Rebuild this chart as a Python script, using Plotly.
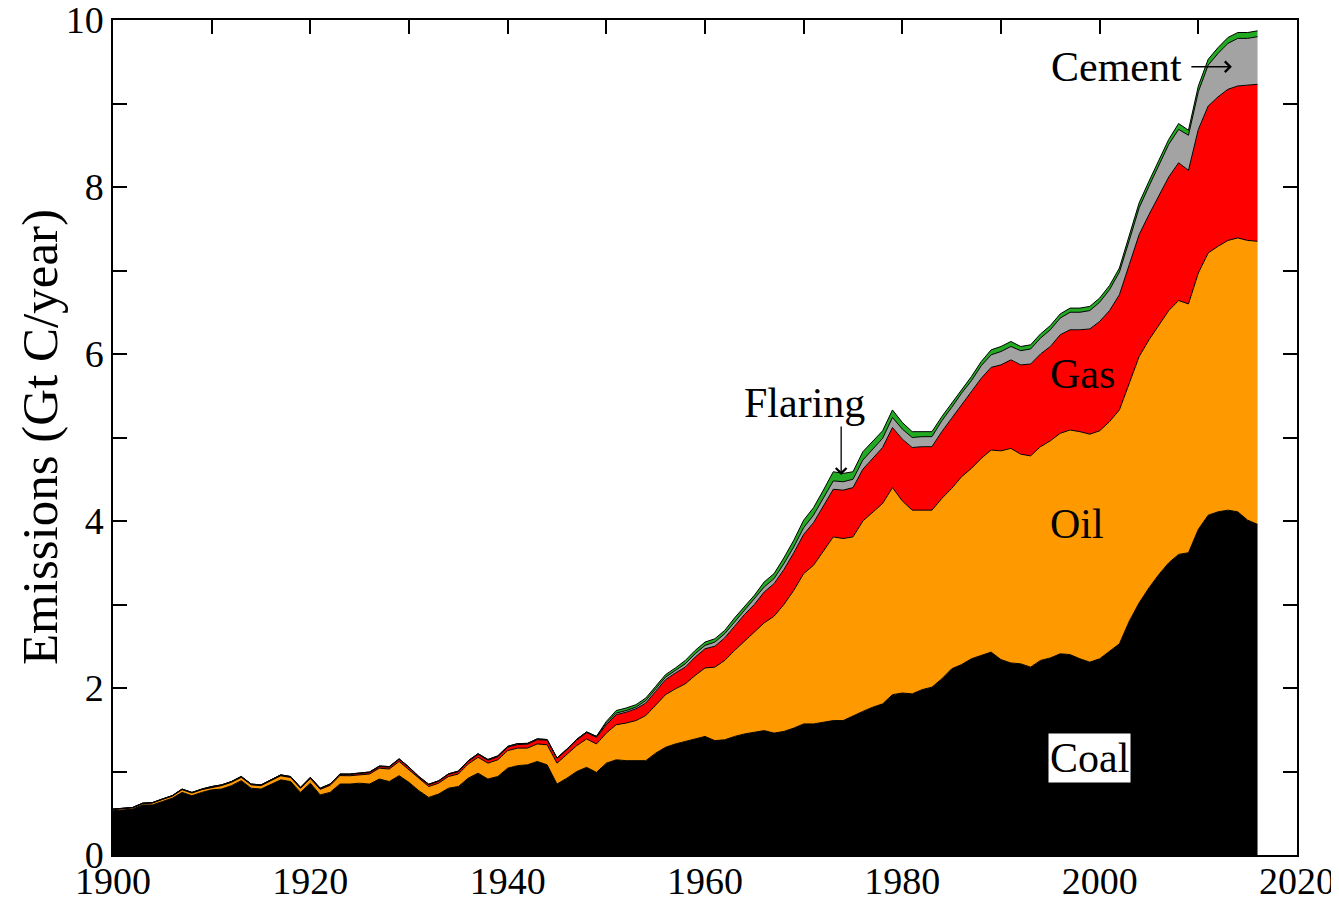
import plotly.graph_objects as go

years = list(range(1900, 2017))

# emissions by source, Gt C per year
coal = [0.53, 0.54, 0.55, 0.60, 0.60, 0.64, 0.68, 0.75, 0.71, 0.75,
        0.78, 0.79, 0.83, 0.89, 0.80, 0.79, 0.85, 0.90, 0.88, 0.75,
        0.86, 0.72, 0.75, 0.85, 0.85, 0.86, 0.85, 0.91, 0.88, 0.95,
        0.87, 0.77, 0.69, 0.73, 0.80, 0.82, 0.92, 0.98, 0.91, 0.94,
        1.04, 1.07, 1.08, 1.12, 1.08, 0.85, 0.92, 1.00, 1.05, 0.99,
        1.10, 1.14, 1.13, 1.13, 1.13, 1.22, 1.29, 1.33, 1.36, 1.39,
        1.42, 1.37, 1.38, 1.42, 1.45, 1.47, 1.49, 1.46, 1.48, 1.52,
        1.57, 1.57, 1.59, 1.61, 1.61, 1.67, 1.72, 1.77, 1.81, 1.92,
        1.94, 1.93, 1.98, 2.01, 2.11, 2.23, 2.28, 2.35, 2.39, 2.43,
        2.34, 2.30, 2.29, 2.25, 2.33, 2.36, 2.41, 2.40, 2.35, 2.31,
        2.35, 2.44, 2.53, 2.80, 3.02, 3.20, 3.36, 3.50, 3.60, 3.62,
        3.90, 4.07, 4.11, 4.13, 4.11, 4.01, 3.96]

oil = [0.015, 0.015, 0.015, 0.015, 0.022, 0.025, 0.025, 0.032, 0.032, 0.032,
       0.031, 0.041, 0.040, 0.040, 0.040, 0.040, 0.040, 0.048, 0.048, 0.048,
       0.056, 0.066, 0.084, 0.101, 0.099, 0.098, 0.12, 0.13, 0.15, 0.17,
       0.15, 0.14, 0.13, 0.13, 0.14, 0.15, 0.17, 0.19, 0.19, 0.20,
       0.21, 0.21, 0.20, 0.21, 0.24, 0.25, 0.28, 0.31, 0.34, 0.34,
       0.36, 0.42, 0.45, 0.48, 0.54, 0.58, 0.63, 0.66, 0.69, 0.76,
       0.82, 0.88, 0.95, 1.03, 1.11, 1.19, 1.29, 1.40, 1.52, 1.65,
       1.80, 1.90, 2.05, 2.20, 2.18, 2.14, 2.28, 2.34, 2.40, 2.48,
       2.30, 2.20, 2.15, 2.12, 2.16, 2.16, 2.25, 2.28, 2.36, 2.42,
       2.50, 2.57, 2.51, 2.53, 2.56, 2.60, 2.64, 2.69, 2.72, 2.73,
       2.73, 2.75, 2.80, 2.85, 2.95, 2.97, 2.99, 3.02, 3.04, 2.98,
       3.07, 3.14, 3.18, 3.23, 3.28, 3.35, 3.39]

gas = [0.003, 0.003, 0.003, 0.004, 0.004, 0.004, 0.004, 0.005, 0.005, 0.005,
       0.006, 0.006, 0.007, 0.007, 0.007, 0.007, 0.008, 0.009, 0.009, 0.009,
       0.010, 0.010, 0.011, 0.014, 0.015, 0.016, 0.017, 0.019, 0.021, 0.024,
       0.025, 0.023, 0.022, 0.023, 0.025, 0.027, 0.030, 0.034, 0.034, 0.036,
       0.040, 0.043, 0.046, 0.051, 0.055, 0.056, 0.060, 0.067, 0.074, 0.080,
       0.10, 0.12, 0.13, 0.14, 0.15, 0.16, 0.18, 0.19, 0.20, 0.22,
       0.23, 0.25, 0.27, 0.29, 0.32, 0.34, 0.37, 0.39, 0.42, 0.45,
       0.47, 0.51, 0.54, 0.57, 0.58, 0.59, 0.62, 0.64, 0.67, 0.72,
       0.74, 0.75, 0.76, 0.76, 0.80, 0.84, 0.86, 0.91, 0.96, 0.99,
       1.03, 1.06, 1.07, 1.10, 1.11, 1.13, 1.18, 1.20, 1.22, 1.26,
       1.31, 1.33, 1.38, 1.42, 1.46, 1.50, 1.55, 1.60, 1.65, 1.60,
       1.72, 1.76, 1.79, 1.81, 1.82, 1.86, 1.88]

cement = [0.002, 0.002, 0.002, 0.002, 0.002, 0.002, 0.002, 0.003, 0.003, 0.003,
          0.003, 0.003, 0.003, 0.004, 0.003, 0.003, 0.003, 0.003, 0.003, 0.003,
          0.004, 0.004, 0.005, 0.005, 0.006, 0.006, 0.007, 0.007, 0.008, 0.008,
          0.008, 0.007, 0.006, 0.006, 0.007, 0.008, 0.009, 0.010, 0.010, 0.011,
          0.011, 0.011, 0.011, 0.010, 0.008, 0.006, 0.008, 0.009, 0.010, 0.011,
          0.02, 0.02, 0.02, 0.02, 0.03, 0.03, 0.03, 0.03, 0.04, 0.04,
          0.04, 0.05, 0.05, 0.05, 0.05, 0.06, 0.06, 0.06, 0.07, 0.07,
          0.08, 0.09, 0.09, 0.10, 0.10, 0.10, 0.11, 0.11, 0.11, 0.12,
          0.12, 0.12, 0.12, 0.12, 0.13, 0.13, 0.14, 0.14, 0.15, 0.15,
          0.16, 0.16, 0.17, 0.18, 0.19, 0.20, 0.20, 0.21, 0.21, 0.22,
          0.23, 0.25, 0.27, 0.29, 0.32, 0.34, 0.37, 0.39, 0.40, 0.42,
          0.45, 0.49, 0.52, 0.55, 0.57, 0.56, 0.57]

flaring = [0.0] * 50 + [
    0.02, 0.03, 0.03, 0.03, 0.03, 0.03, 0.03, 0.03, 0.04, 0.04,
    0.04, 0.04, 0.04, 0.05, 0.05, 0.05, 0.06, 0.06, 0.07, 0.08,
    0.09, 0.09, 0.10, 0.11, 0.10, 0.09, 0.10, 0.10, 0.09, 0.09,
    0.08, 0.07, 0.06, 0.06, 0.05, 0.05, 0.05, 0.05, 0.05, 0.06,
    0.06, 0.06, 0.05, 0.05, 0.05, 0.05, 0.05, 0.05, 0.05, 0.05,
    0.05, 0.05, 0.05, 0.05, 0.06, 0.06, 0.06, 0.06, 0.07, 0.06,
    0.07, 0.07, 0.07, 0.07, 0.07, 0.07, 0.07]

sources = ["Coal", "Oil", "Gas", "Cement", "Flaring"]
series = [coal, oil, gas, cement, flaring]
colors = ["#000000", "#ff9900", "#ff0000", "#a3a3a3", "#22aa22"]

x_ticks = [1900, 1920, 1940, 1960, 1980, 2000, 2020]
y_ticks = [0, 2, 4, 6, 8, 10]

FONT = "Liberation Serif, Times New Roman, serif"

fig = go.Figure()
for name, vals, col in zip(sources, series, colors):
    fig.add_trace(go.Scatter(
        x=years, y=vals, name=name, mode="lines",
        stackgroup="one", fillcolor=col,
        line=dict(color="#000000", width=1),
    ))

# text labels on the areas
fig.add_annotation(x=2001.7, y=9.44, text="Cement", showarrow=False)
fig.add_annotation(x=2013.4, y=9.44, text="", showarrow=True, ax=-42, ay=0,
                   arrowhead=4, arrowsize=1.6, arrowwidth=1.3, arrowcolor="black")
fig.add_annotation(x=1970.1, y=5.41, text="Flaring", showarrow=False)
fig.add_annotation(x=1973.8, y=4.55, text="", showarrow=True, ax=0, ay=-50,
                   arrowhead=4, arrowsize=1.6, arrowwidth=1.3, arrowcolor="black")
fig.add_annotation(x=1998.3, y=5.76, text="Gas", showarrow=False)
fig.add_annotation(x=1997.7, y=3.96, text="Oil", showarrow=False)
fig.add_annotation(x=1999.0, y=1.16, text="Coal", showarrow=False,
                   bgcolor="white", borderpad=1)
fig.update_annotations(font=dict(family=FONT, size=42, color="black"))

# y axis title
fig.add_annotation(x=-0.062, y=0.5, xref="paper", yref="paper",
                   xanchor="center", yanchor="middle",
                   text="Emissions (Gt C/year)", textangle=-90, showarrow=False,
                   font=dict(family=FONT, size=51, color="black"))

axis_style = dict(
    showline=True, linecolor="black", linewidth=1.5, mirror="ticks",
    ticks="inside", ticklen=14, tickwidth=1.5, tickcolor="black",
    showgrid=False, zeroline=False, automargin=False,
    ticklabeloverflow="allow",
    tickfont=dict(family=FONT, size=38, color="black"),
)
fig.update_xaxes(range=[1900, 2020], tickvals=x_ticks, ticklabelstandoff=-8,
                 minor=dict(dtick=10, tick0=1900, ticks="inside", ticklen=14,
                            tickwidth=1.5, tickcolor="black", showgrid=False),
                 **axis_style)
fig.update_yaxes(range=[0, 10], tickvals=y_ticks,
                 minor=dict(dtick=1, tick0=0, ticks="inside", ticklen=14,
                            tickwidth=1.5, tickcolor="black", showgrid=False),
                 **axis_style)

# the page puts the figure 8 px in from the top-left corner
fig.update_layout(
    width=1331, height=891,
    margin=dict(l=105, r=42, t=12, b=44, autoexpand=False),
    plot_bgcolor="white", paper_bgcolor="white",
    showlegend=False,
)

fig.write_html("out.html")
